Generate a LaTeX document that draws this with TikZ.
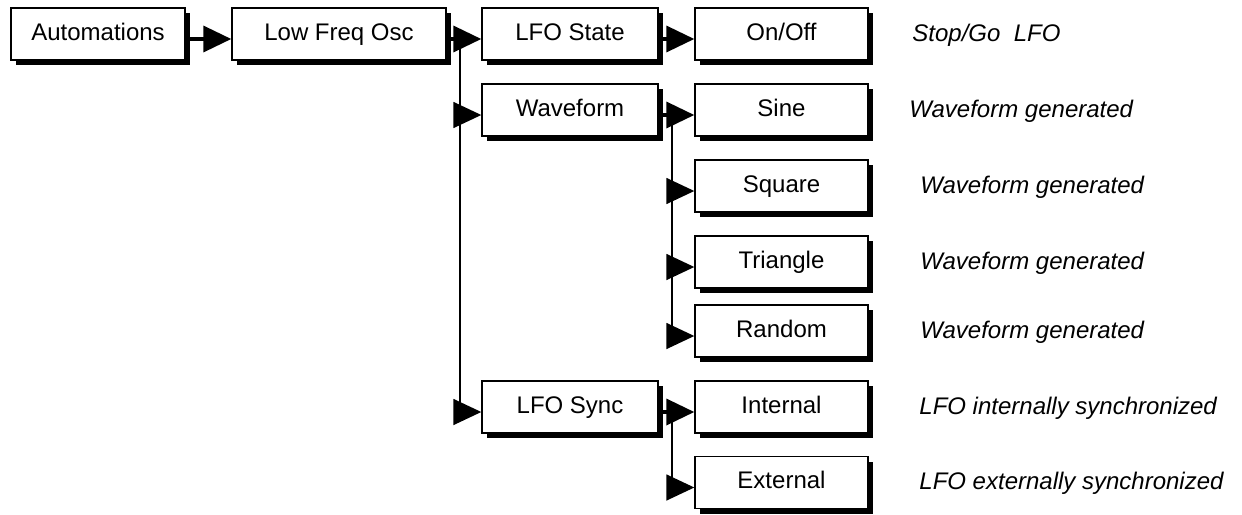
\documentclass[tikz,border=0pt]{standalone}
\usepackage{fontspec}
\setmainfont{Liberation Sans}
\usetikzlibrary{arrows.meta,shadows}
\begin{document}
\begin{tikzpicture}[x=0.5pt,y=-0.5pt,
 box/.style={draw,fill=white,line width=0.7pt,minimum height=26pt,inner sep=0pt,
   font=\fontsize{12}{14}\selectfont,text height=8.6pt,text depth=2.2pt,
   drop shadow={shadow xshift=2.5pt,shadow yshift=-2.5pt,fill=black,opacity=1}},
 colA/.style={box,minimum width=88pt},
 colB/.style={box,minimum width=86.5pt},
 link/.style={line width=1.8pt,-{Triangle[length=14pt,width=13pt]}},
 branch/.style={line width=0.8pt,-{Triangle[length=14pt,width=13pt]}},
 bus/.style={line width=0.8pt},
 note/.style={anchor=base west,inner sep=0pt,font=\fontsize{12}{14}\selectfont\itshape}]
\useasboundingbox (0,0) rectangle (1242,514);

\node[box,minimum width=87pt] (auto) at (98,34) {Automations};
\node[box,minimum width=107pt] (lfo) at (339,34) {Low Freq Osc};
\node[colA] (state) at (570,34) {LFO State};
\node[colA] (wave) at (570,110) {Waveform};
\node[colA] (sync) at (570,407) {LFO Sync};
\node[colB] (onoff) at (781.5,34) {On/Off};
\node[colB] (sine) at (781.5,110) {Sine};
\node[colB] (square) at (781.5,186) {Square};
\node[colB] (triangle) at (781.5,262) {Triangle};
\node[colB] (random) at (781.5,331) {Random};
\node[colB] (internal) at (781.5,407) {Internal};
\node[colB] (external) at (781.5,482.5) {External};

\draw[link] ([yshift=-2.5pt]auto.east) -- ([yshift=-2.5pt]lfo.west);
\draw[link] ([yshift=-2.5pt]lfo.east) -- ([yshift=-2.5pt]state.west);
\coordinate (b1t) at (460,39);
\coordinate (b1b) at (460,412);
\draw[bus] (b1t) -- (b1b);
\draw[branch] ([yshift=-2.5pt]wave.west -| b1t) -- ([yshift=-2.5pt]wave.west);
\draw[branch] ([yshift=-2.5pt]sync.west -| b1t) -- ([yshift=-2.5pt]sync.west);

\draw[link] ([yshift=-2.5pt]state.east) -- ([yshift=-2.5pt]onoff.west);
\draw[link] ([yshift=-2.5pt]wave.east) -- ([yshift=-2.5pt]sine.west);
\coordinate (b2t) at (672,115);
\coordinate (b2b) at (672,336);
\draw[bus] (b2t) -- (b2b);
\draw[branch] ([yshift=-2.5pt]square.west -| b2t) -- ([yshift=-2.5pt]square.west);
\draw[branch] ([yshift=-2.5pt]triangle.west -| b2t) -- ([yshift=-2.5pt]triangle.west);
\draw[branch] ([yshift=-2.5pt]random.west -| b2t) -- ([yshift=-2.5pt]random.west);

\draw[link] ([yshift=-2.5pt]sync.east) -- ([yshift=-2.5pt]internal.west);
\coordinate (b3t) at (672,412);
\coordinate (b3b) at (672,487.5);
\draw[bus] (b3t) -- (b3b);
\draw[branch] ([yshift=-2.5pt]external.west -| b3t) -- ([yshift=-2.5pt]external.west);

\node[note] (n1) at (912,41) {Stop/Go\ \ LFO};
\node[note] (n2) at (909,117) {Waveform generated};
\node[note] (n3) at (920,193) {Waveform generated};
\node[note] (n4) at (920,269) {Waveform generated};
\node[note] (n5) at (920,338) {Waveform generated};
\node[note] (n6) at (919,414) {LFO internally synchronized};
\node[note] (n7) at (919,489.5) {LFO externally synchronized};
\end{tikzpicture}
\end{document}
